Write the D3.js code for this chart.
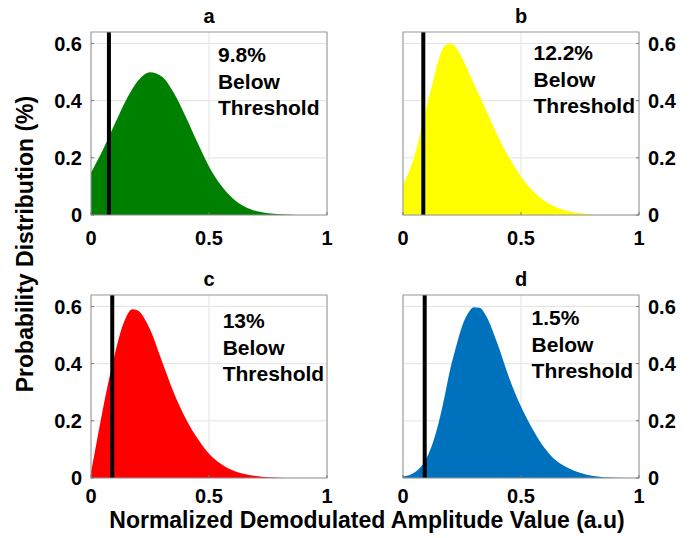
<!DOCTYPE html>
<html lang="en">
  <head>
    <meta charset="UTF-8" />
    <title>Probability distributions</title>
    <style>
      body { margin: 0; background: #fff; }
      text { font-family: "Liberation Sans", Arial, sans-serif; font-weight: bold; fill: #000; }
    </style>
  </head>
  <body>
    <svg width="695" height="538"></svg>
    <script src="https://d3js.org/d3.v7.min.js"></script>
    <script>
      // values (x in a.u., y in distribution units)
      var xTicks = [0, 0.5, 1];
      var yTicks = [0, 0.2, 0.4, 0.6];
      var panelNames = ["a", "b", "c", "d"];
      var belowPct = ["9.8%", "12.2%", "13%", "1.5%"];
      var thresholds = [0.076, 0.086, 0.09, 0.092];
      var colors = ["#008000", "#ffff00", "#ff0000", "#0072bd"];

      var xsA = [0, 0.05, 0.1, 0.15, 0.2, 0.25, 0.3, 0.35, 0.4, 0.45, 0.5, 0.55, 0.6, 0.65, 0.7, 0.75, 0.8, 0.85, 0.9, 1];
      var ysA = [0.148, 0.227, 0.317, 0.404, 0.47, 0.499, 0.484, 0.428, 0.346, 0.255, 0.17, 0.105, 0.059, 0.03, 0.014, 0.006, 0.0025, 0.001, 0, 0];

      var xsB = [0, 0.025, 0.05, 0.075, 0.1, 0.125, 0.15, 0.175, 0.2, 0.225, 0.25, 0.3, 0.35, 0.4, 0.45, 0.5, 0.55, 0.6, 0.65, 0.7, 0.75, 0.8, 0.85, 1];
      var ysB = [0.105, 0.15, 0.21, 0.29, 0.38, 0.46, 0.54, 0.59, 0.6, 0.585, 0.55, 0.46, 0.37, 0.28, 0.2, 0.135, 0.085, 0.05, 0.027, 0.013, 0.006, 0.002, 0, 0];

      var xsC = [0, 0.025, 0.05, 0.075, 0.1, 0.125, 0.15, 0.175, 0.2, 0.225, 0.25, 0.3, 0.35, 0.4, 0.45, 0.5, 0.55, 0.6, 0.65, 0.7, 0.75, 0.8, 0.85, 1];
      var ysC = [0.02, 0.13, 0.24, 0.34, 0.43, 0.51, 0.565, 0.59, 0.585, 0.56, 0.52, 0.41, 0.3, 0.21, 0.14, 0.085, 0.05, 0.027, 0.014, 0.007, 0.003, 0.001, 0, 0];

      var xsD = [0, 0.05, 0.1, 0.125, 0.15, 0.175, 0.2, 0.225, 0.25, 0.275, 0.3, 0.325, 0.35, 0.4, 0.45, 0.5, 0.55, 0.6, 0.65, 0.7, 0.75, 0.8, 0.85, 0.9, 1];
      var ysD = [0.005, 0.02, 0.07, 0.12, 0.19, 0.28, 0.38, 0.46, 0.53, 0.575, 0.597, 0.595, 0.57, 0.47, 0.35, 0.25, 0.17, 0.105, 0.06, 0.035, 0.018, 0.008, 0.003, 0.001, 0];

      var series = [[xsA, ysA], [xsB, ysB], [xsC, ysC], [xsD, ysD]];

      // layout
      var svg = d3.select("svg");
      var W = 236, H = 183;
      var lefts = [91, 403, 91, 403];
      var tops = [32, 32, 295, 295];
      var rightAxis = [false, true, false, true];
      var xLabOff = [30, 30, 25, 25];
      var noteX = [0.538, 0.553, 0.558, 0.545];
      var noteY = [0.534, 0.541, 0.523, 0.535];

      var x = d3.scaleLinear().domain([0, 1]).range([0, W]);
      var y = d3.scaleLinear().domain([0, 0.64]).range([H, 0]);

      panelNames.forEach(function(name, i) {
        var g = svg.append("g").attr("transform", "translate(" + lefts[i] + "," + tops[i] + ")");
        var pts = series[i][0].map(function(v, k) { return [v, series[i][1][k]]; });

        // grid
        g.selectAll(".gx").data(xTicks).enter().append("line")
          .attr("x1", d => x(d)).attr("x2", d => x(d)).attr("y1", 0).attr("y2", H)
          .attr("stroke", "#e3e3e3").attr("stroke-width", 1);
        g.selectAll(".gy").data(yTicks).enter().append("line")
          .attr("x1", 0).attr("x2", W).attr("y1", d => y(d)).attr("y2", d => y(d))
          .attr("stroke", "#e3e3e3").attr("stroke-width", 1);

        var area = d3.area()
          .x(d => x(d[0])).y0(y(0)).y1(d => y(d[1]))
          .curve(d3.curveMonotoneX);
        g.append("path").datum(pts).attr("d", area).attr("fill", colors[i]);

        // threshold
        g.append("line")
          .attr("x1", x(thresholds[i])).attr("x2", x(thresholds[i]))
          .attr("y1", 0).attr("y2", H)
          .attr("stroke", "#000").attr("stroke-width", 4);

        // box
        g.append("rect").attr("x", 0).attr("y", 0).attr("width", W).attr("height", H)
          .attr("fill", "none").attr("stroke", "#969696").attr("stroke-width", 1);

        // ticks
        var ax = rightAxis[i] ? W : 0;
        var dir = rightAxis[i] ? -1 : 1;
        g.selectAll(".ty").data(yTicks).enter().append("line")
          .attr("x1", ax).attr("x2", ax + dir * 3).attr("y1", d => y(d)).attr("y2", d => y(d))
          .attr("stroke", "#777");
        g.selectAll(".tx").data(xTicks).enter().append("line")
          .attr("x1", d => x(d)).attr("x2", d => x(d)).attr("y1", H).attr("y2", H - 3)
          .attr("stroke", "#777");

        g.selectAll(".lx").data(xTicks).enter().append("text")
          .attr("x", d => x(d)).attr("y", H + xLabOff[i])
          .attr("text-anchor", "middle").attr("font-size", 20)
          .text(d => d3.format("~g")(d));
        g.selectAll(".ly").data(yTicks).enter().append("text")
          .attr("x", rightAxis[i] ? W + 9 : -9).attr("y", d => y(d))
          .attr("dy", "0.36em")
          .attr("text-anchor", rightAxis[i] ? "start" : "end").attr("font-size", 20)
          .text(d => d3.format("~g")(d));

        // title
        g.append("text").attr("x", W / 2).attr("y", -9)
          .attr("text-anchor", "middle").attr("font-size", 20).text(name);

        // note
        var note = g.append("text").attr("x", x(noteX[i])).attr("y", y(noteY[i])).attr("font-size", 21);
        [belowPct[i], "Below", "Threshold"].forEach(function(s, k) {
          note.append("tspan").attr("x", x(noteX[i])).attr("dy", k === 0 ? 0 : 26.5).text(s);
        });
      });

      svg.append("text").attr("x", 367).attr("y", 528)
        .attr("text-anchor", "middle").attr("font-size", 23)
        .text("Normalized Demodulated Amplitude Value (a.u)");
      svg.append("text").attr("transform", "translate(33,244) rotate(-90)")
        .attr("text-anchor", "middle").attr("font-size", 23)
        .text("Probability Distribution (%)");
    </script>
  </body>
</html>
